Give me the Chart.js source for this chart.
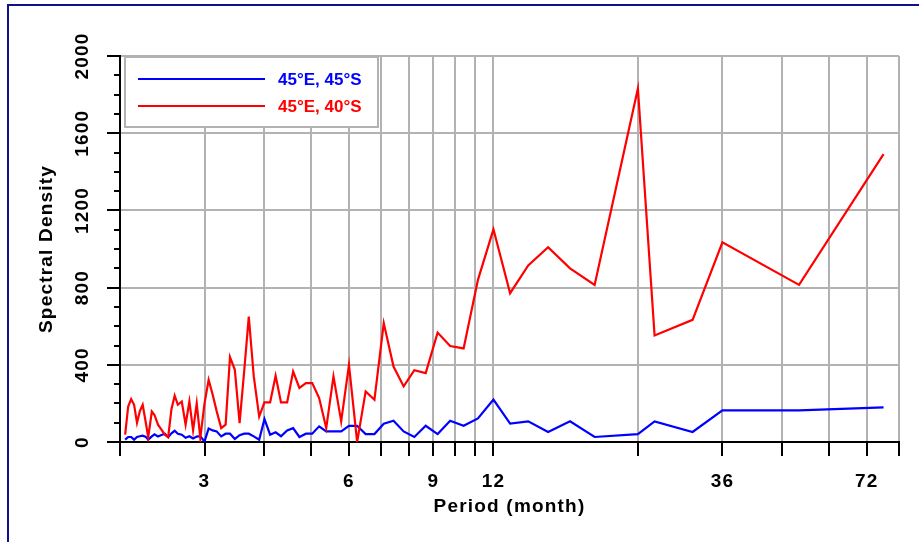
<!DOCTYPE html>
<html>
<head>
<meta charset="utf-8">
<script src="https://cdn.jsdelivr.net/npm/chart.js@4.4.1/dist/chart.umd.min.js"></script>
<style>
  html, body { margin: 0; padding: 0; background: #fff; }
  #wrap { position: relative; width: 919px; height: 542px; }
</style>
</head>
<body>
<div id="wrap"><canvas id="chart"></canvas></div>
<script>
// period (months) of each spectral estimate
const periods = [
  2.05, 2.08, 2.11, 2.14, 2.17, 2.20, 2.23, 2.26, 2.29, 2.33,
  2.36, 2.40, 2.44, 2.48, 2.52, 2.56, 2.60, 2.64, 2.69, 2.74,
  2.79, 2.84, 2.89, 2.94, 3.00, 3.06, 3.12, 3.18, 3.25, 3.32,
  3.39, 3.47, 3.55, 3.63, 3.71, 3.80, 3.90, 4.00, 4.11, 4.22,
  4.33, 4.46, 4.59, 4.73, 4.88, 5.03, 5.20, 5.38, 5.57, 5.78,
  6.00, 6.24, 6.50, 6.78, 7.09, 7.43, 7.80, 8.21, 8.67, 9.18,
  9.75, 10.4, 11.14, 12.0, 13.0, 14.18, 15.6, 17.33, 19.5, 24,
  26, 31.2, 36, 52, 78
];

// 45°E, 45°S
const blueDensity = [
  12, 26, 26, 12, 26, 30, 33, 28, 12, 29,
  40, 29, 36, 43, 25, 45, 58, 43, 38, 22,
  30, 18, 28, 30, 2, 70, 60, 55, 29, 43,
  43, 16, 35, 43, 43, 29, 12, 119, 38, 50,
  30, 60, 72, 26, 43, 43, 81, 55, 55, 55,
  84, 84, 41, 41, 95, 110, 55, 26, 84, 41,
  110, 84, 122, 220, 95, 107, 52, 107, 26, 41,
  107, 52, 164, 164, 179
];

// 45°E, 40°S
const redDensity = [
  38, 184, 222, 193, 100, 160, 193, 110, 25, 158,
  140, 90, 64, 38, 25, 170, 240, 193, 210, 90,
  210, 60, 200, 20, 200, 322, 245, 160, 72, 90,
  440, 374, 98, 370, 650, 340, 132, 205, 205, 343,
  205, 205, 365, 280, 305, 305, 228, 72, 340, 107,
  400, 0, 262, 219, 616, 391, 288, 372, 357, 567,
  497, 485, 840, 1102, 771, 915, 1009, 900, 814, 1832,
  552, 633, 1035, 814, 1492
];

const seriesNames = ["45°E, 45°S", "45°E, 40°S"];
const xGridValues = [2, 3, 4, 5, 6, 7, 8, 9, 10, 11, 12, 24, 36, 48, 60, 72, 84];
const xTickLabels = [3, 6, 9, 12, 36, 72];
const yMax = 2000;
const yMajorStep = 400;
const yMinorStep = 100;

const GRID = "#b2b2b2";
const FONT = "'Liberation Sans', Arial, sans-serif";

const toPoints = vals => vals.map((v, i) => ({ x: periods[i], y: v }));

const framePlugin = {
  id: "frame",
  beforeDraw(chart) {
    const c = chart.ctx;
    c.save();
    c.fillStyle = "#fff";
    c.fillRect(0, 0, chart.width, chart.height);
    c.strokeStyle = "#10108a";
    c.lineWidth = 2;
    c.beginPath();
    c.moveTo(8, chart.height);
    c.lineTo(8, 5);
    c.lineTo(chart.width, 5);
    c.stroke();
    c.restore();
    // axis texts in the original are slightly spaced out
    c.letterSpacing = "1.2px";
  },
  beforeDatasetsDraw(chart) {
    chart.ctx.letterSpacing = "0px";
  }
};

const minorTickPlugin = {
  id: "minorTicks",
  afterDraw(chart) {
    const s = chart.scales.y;
    const c = chart.ctx;
    c.save();
    c.strokeStyle = "#000";
    c.lineWidth = 2;
    for (let v = 0; v <= yMax; v += yMinorStep) {
      if (v % yMajorStep === 0) continue;
      const py = Math.round(s.getPixelForValue(v));
      c.beginPath();
      c.moveTo(chart.chartArea.left - 6, py);
      c.lineTo(chart.chartArea.left, py);
      c.stroke();
    }
    c.restore();
  }
};

const boxLegendPlugin = {
  id: "boxLegend",
  afterDatasetsDraw(chart) {
    const a = chart.chartArea;
    const c = chart.ctx;
    const x0 = a.left + 5, y0 = a.top + 1, w = 253, h = 70;
    c.save();
    c.fillStyle = "#fff";
    c.fillRect(x0, y0, w, h);
    c.strokeStyle = GRID;
    c.lineWidth = 2;
    c.strokeRect(x0, y0, w, h);
    c.font = "bold 17px " + FONT;
    c.textBaseline = "middle";
    chart.data.datasets.forEach((ds, i) => {
      const ly = y0 + 22 + i * 27;
      c.strokeStyle = ds.borderColor;
      c.lineWidth = 2;
      c.beginPath();
      c.moveTo(x0 + 13, ly);
      c.lineTo(x0 + 140, ly);
      c.stroke();
      c.fillStyle = ds.borderColor;
      c.fillText(ds.label, x0 + 153, ly + 1);
    });
    c.restore();
  }
};

new Chart(document.getElementById("chart"), {
  type: "line",
  data: {
    datasets: [
      {
        label: seriesNames[0],
        data: toPoints(blueDensity),
        borderColor: "#0000ff",
        borderWidth: 2.2,
        pointRadius: 0,
        tension: 0,
        order: 2
      },
      {
        label: seriesNames[1],
        data: toPoints(redDensity),
        borderColor: "#ff0000",
        borderWidth: 2.2,
        pointRadius: 0,
        tension: 0,
        order: 1
      }
    ]
  },
  plugins: [framePlugin, minorTickPlugin, boxLegendPlugin],
  options: {
    responsive: true,
    maintainAspectRatio: false,
    animation: false,
    devicePixelRatio: 1,
    layout: { padding: { left: 0, top: 56, right: 20, bottom: 0 } },
    plugins: {
      legend: { display: false },
      tooltip: { enabled: false }
    },
    scales: {
      x: {
        type: "logarithmic",
        min: 2,
        max: 84,
        afterBuildTicks: scale => { scale.ticks = xGridValues.map(v => ({ value: v })); },
        afterFit: scale => { scale.height = 100; },
        ticks: {
          autoSkip: false,
          maxRotation: 0,
          minRotation: 0,
          padding: 14,
          color: "#000",
          font: { family: FONT, size: 19, weight: "bold" },
          callback: v => xTickLabels.includes(v) ? String(v) : ""
        },
        grid: {
          color: ctx => ctx.tick && ctx.tick.value === 2 ? "rgba(0,0,0,0)" : GRID,
          lineWidth: 2,
          tickColor: "#000",
          tickLength: 14,
          tickWidth: 2
        },
        border: { color: "#000", width: 2 },
        title: {
          display: true,
          text: "Period (month)",
          color: "#000",
          font: { family: FONT, size: 19, weight: "bold" },
          padding: { top: 0, bottom: 24 }
        }
      },
      y: {
        min: 0,
        max: yMax,
        afterFit: scale => { scale.width = 120; },
        ticks: {
          stepSize: yMinorStep,
          autoSkip: false,
          minRotation: 90,
          maxRotation: 90,
          crossAlign: "center",
          padding: 3,
          color: "#000",
          font: { family: FONT, size: 19, weight: "bold" },
          callback: v => v % yMajorStep === 0 ? String(v) : ""
        },
        grid: {
          color: ctx => ctx.tick && ctx.tick.value % yMajorStep === 0 && ctx.tick.value !== 0 ? GRID : "rgba(0,0,0,0)",
          lineWidth: 2,
          tickColor: ctx => ctx.tick && ctx.tick.value % yMajorStep === 0 ? "#000" : "rgba(0,0,0,0)",
          tickLength: 13,
          tickWidth: 2
        },
        border: { color: "#000", width: 2 },
        title: {
          display: true,
          text: "Spectral Density",
          color: "#000",
          font: { family: FONT, size: 19, weight: "bold" },
          padding: { top: 35, bottom: 0 }
        }
      }
    }
  }
});
</script>
</body>
</html>
